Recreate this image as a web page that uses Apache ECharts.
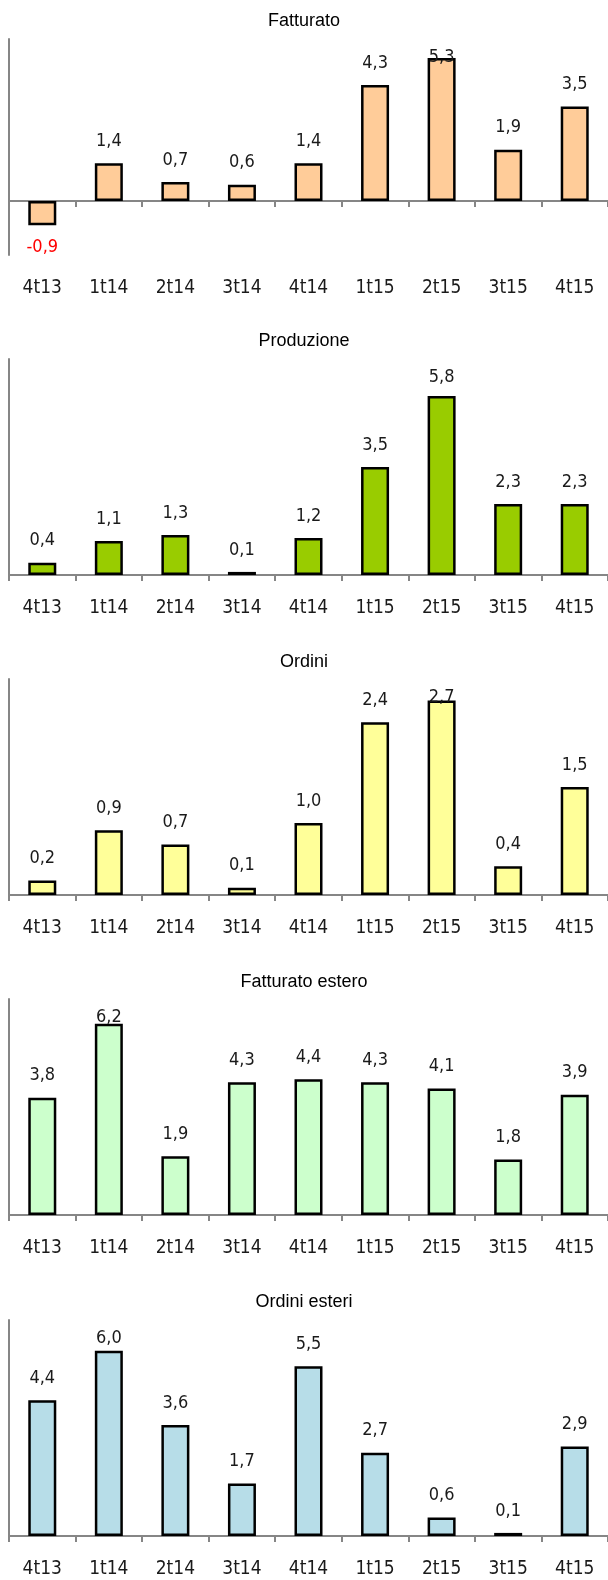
<!DOCTYPE html>
<html>
<head>
<meta charset="utf-8">
<script src="https://cdn.jsdelivr.net/npm/echarts@6/dist/echarts.min.js"></script>
<style>
  html, body { margin: 0; padding: 0; background: #fff; }
  #chart { width: 608px; height: 1580px; }
</style>
</head>
<body>
<div id="chart"></div>
<script>
// categorie (trimestri)
const categories = ['4t13', '1t14', '2t14', '3t14', '4t14', '1t15', '2t15', '3t15', '4t15'];

// titoli dei pannelli
const titles = ['Fatturato', 'Produzione', 'Ordini', 'Fatturato estero', 'Ordini esteri'];

// valori per pannello
const fatturato = [-0.9, 1.4, 0.7, 0.6, 1.4, 4.3, 5.3, 1.9, 3.5];
const produzione = [0.4, 1.1, 1.3, 0.1, 1.2, 3.5, 5.8, 2.3, 2.3];
const ordini = [0.2, 0.9, 0.7, 0.1, 1.0, 2.4, 2.7, 0.4, 1.5];
const fatturatoEstero = [3.8, 6.2, 1.9, 4.3, 4.4, 4.3, 4.1, 1.8, 3.9];
const ordiniEsteri = [4.4, 6.0, 3.6, 1.7, 5.5, 2.7, 0.6, 0.1, 2.9];

// scale asse y
const yMin = [-2, 0, 0, 0, 0];
const yMax = [6, 7, 3, 7, 7];

const panels = [fatturato, produzione, ordini, fatturatoEstero, ordiniEsteri];
const colors = ['#FFCC99', '#99CC00', '#FFFF99', '#CCFFCC', '#B7DDE8'];

// layout
const gridTops = [39, 359, 679, 999, 1320];
const titleCenters = [20, 340, 661, 981, 1301];
const gridH = 216;
const narrow = '"Liberation Sans Narrow", "DejaVu Sans Condensed", "Liberation Sans", sans-serif';
const axisGray = '#868686';

const fmt = v => v.toFixed(1).replace('.', ',');

const chart = echarts.init(document.getElementById('chart'));

const title = [], grid = [], xAxis = [], yAxis = [], series = [];

panels.forEach((vals, i) => {
  title.push({
    text: titles[i],
    left: 'center',
    top: titleCenters[i] - 8,
    padding: 0,
    textStyle: { fontFamily: '"Liberation Sans", Arial, sans-serif', fontSize: 18, fontWeight: 'normal', color: '#000' }
  });
  grid.push({ left: 9, right: -5, top: gridTops[i], height: gridH });

  // asse x sullo zero con tacche
  xAxis.push({
    type: 'category', gridIndex: i, data: categories,
    axisLine: { onZero: true, lineStyle: { color: axisGray, width: 2 } },
    axisTick: { show: true, length: 6, lineStyle: { color: axisGray, width: 2 } },
    axisLabel: { show: false },
    splitLine: { show: false }
  });
  // etichette in basso
  xAxis.push({
    type: 'category', gridIndex: i, data: categories, position: 'bottom',
    axisLine: { show: false, onZero: false },
    axisTick: { show: false },
    axisLabel: { margin: 24, fontFamily: narrow, fontSize: 19, color: '#1a1a1a', interval: 0 }
  });
  yAxis.push({
    type: 'value', gridIndex: i, min: yMin[i], max: yMax[i],
    axisLine: { show: true, lineStyle: { color: axisGray, width: 2 } },
    axisTick: { show: false },
    axisLabel: { show: false },
    splitLine: { show: false }
  });

  const pxPerUnit = gridH / (yMax[i] - yMin[i]);
  const data = vals.map(v => {
    if (v < 0) {
      return { value: v, label: { position: 'bottom', distance: 13, color: '#FF0000' } };
    }
    const barTop = gridTops[i] + (yMax[i] - v) * pxPerUnit;
    const want = barTop - 22;
    const minCenter = gridTops[i] + 18;
    const dy = want < minCenter ? minCenter - want : 0;
    return { value: v, label: { offset: [0, dy] } };
  });

  series.push({
    type: 'bar', xAxisIndex: i * 2, yAxisIndex: i,
    data: data,
    barWidth: 28,
    itemStyle: { color: colors[i], borderColor: '#000', borderWidth: 2.5 },
    label: {
      show: true, position: 'top', distance: 13,
      fontFamily: narrow, fontSize: 18, color: '#1a1a1a',
      formatter: p => fmt(p.value)
    },
    animation: false
  });
});

chart.setOption({ animation: false, title, grid, xAxis, yAxis, series });
</script>
</body>
</html>
